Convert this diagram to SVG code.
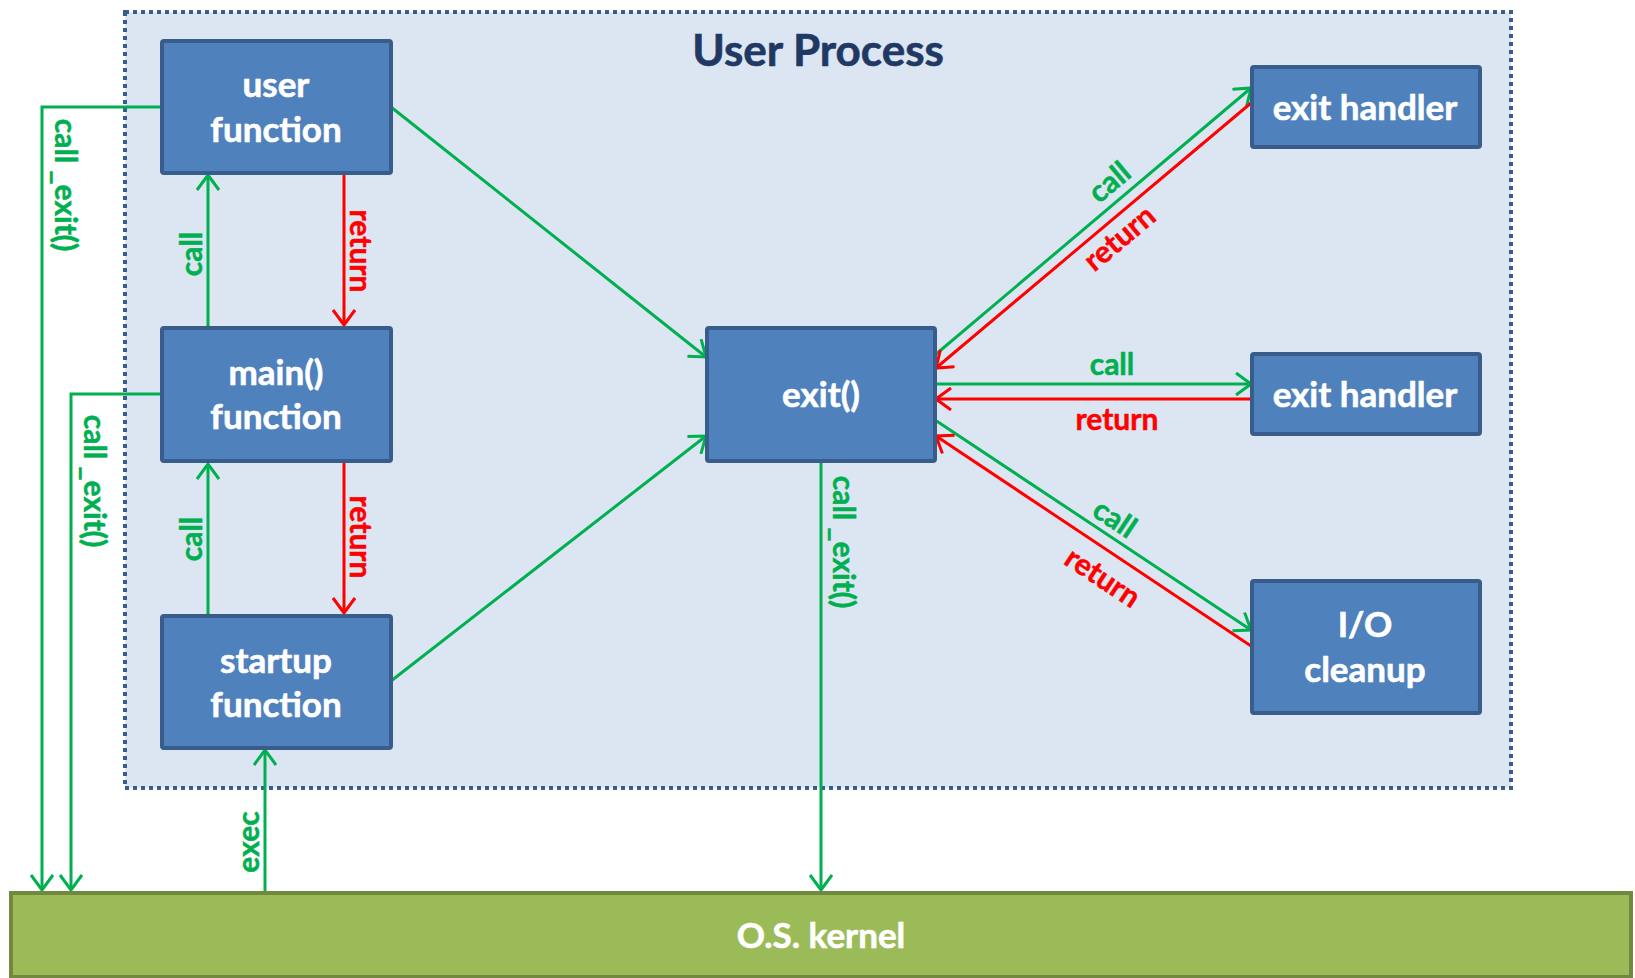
<svg xmlns="http://www.w3.org/2000/svg" width="1635" height="978" viewBox="0 0 1635 978">
  <style>
    .box { fill: #4F81BD; stroke: #385D8A; stroke-width: 4; }
    .kernel { fill: #9BBB59; stroke: #71893F; stroke-width: 4; }
    .btxt { font-family: Lato, "Liberation Sans", sans-serif; font-weight: bold; font-size: 35px; fill: #FFFFFF; stroke: #FFFFFF; stroke-width: 0.6; text-anchor: middle; }
    .title { font-family: Lato, "Liberation Sans", sans-serif; font-weight: bold; font-size: 44px; fill: #1F3864; stroke: #1F3864; stroke-width: 0.6; text-anchor: middle; }
    .g { stroke: #00B050; stroke-width: 3; fill: none; }
    .r { stroke: #FF0000; stroke-width: 3; fill: none; }
    .gl { font-family: Lato, "Liberation Sans", sans-serif; font-weight: bold; font-size: 30px; fill: #00B050; stroke: #00B050; stroke-width: 0.5; text-anchor: middle; }
    .rl { font-family: Lato, "Liberation Sans", sans-serif; font-weight: bold; font-size: 30px; fill: #FF0000; stroke: #FF0000; stroke-width: 0.5; text-anchor: middle; }
  </style>
  <defs>
    <marker id="ag" markerUnits="userSpaceOnUse" viewBox="0 0 18 24" refX="16" refY="12" markerWidth="18" markerHeight="24" orient="auto">
      <path d="M1,1 L16,12 L1,23" fill="none" stroke="#00B050" stroke-width="3"/>
    </marker>
    <marker id="ar" markerUnits="userSpaceOnUse" viewBox="0 0 18 24" refX="16" refY="12" markerWidth="18" markerHeight="24" orient="auto">
      <path d="M1,1 L16,12 L1,23" fill="none" stroke="#FF0000" stroke-width="3"/>
    </marker>
  </defs>

  <!-- process boundary -->
  <g id="user-process">
    <rect x="125" y="12" width="1386" height="776" fill="#DCE6F2" stroke="#385D8A" stroke-width="4" stroke-dasharray="4 4"/>
    <text class="title" x="818" y="66">User Process</text>
  </g>

  <!-- connectors -->
  <g id="connectors">
    <!-- _exit paths to the kernel -->
    <polyline class="g" points="162,107 42,107 42,890" marker-end="url(#ag)"/>
    <polyline class="g" points="162,394 71,394 71,890" marker-end="url(#ag)"/>
    <line class="g" x1="821" y1="461" x2="821" y2="890" marker-end="url(#ag)"/>
    <line class="g" x1="265" y1="892" x2="265" y2="750" marker-end="url(#ag)"/>

    <!-- call / return chain -->
    <line class="g" x1="208" y1="327" x2="208" y2="175" marker-end="url(#ag)"/>
    <line class="r" x1="344" y1="173" x2="344" y2="325" marker-end="url(#ar)"/>
    <line class="g" x1="208" y1="615" x2="208" y2="464" marker-end="url(#ag)"/>
    <line class="r" x1="344" y1="462" x2="344" y2="613" marker-end="url(#ar)"/>

    <!-- into exit() -->
    <line class="g" x1="391" y1="107" x2="706" y2="357" marker-end="url(#ag)"/>
    <line class="g" x1="391" y1="681" x2="706" y2="436" marker-end="url(#ag)"/>

    <!-- exit() to handlers -->
    <line class="g" x1="935" y1="355" x2="1251" y2="88" marker-end="url(#ag)"/>
    <line class="r" x1="1251" y1="103" x2="936" y2="368" marker-end="url(#ar)"/>
    <line class="g" x1="935" y1="384" x2="1251" y2="384" marker-end="url(#ag)"/>
    <line class="r" x1="1251" y1="399" x2="936" y2="399" marker-end="url(#ar)"/>
    <line class="g" x1="935" y1="420" x2="1251" y2="630" marker-end="url(#ag)"/>
    <line class="r" x1="1251" y1="646" x2="936" y2="436" marker-end="url(#ar)"/>

    <!-- labels -->
    <text class="gl" transform="translate(55,185) rotate(90)">call _exit()</text>
    <text class="gl" transform="translate(84,481) rotate(90)">call _exit()</text>
    <text class="gl" transform="translate(833,542) rotate(90)">call _exit()</text>
    <text class="gl" transform="translate(259,842) rotate(-90)">exec</text>
    <text class="gl" transform="translate(202,254) rotate(-90)">call</text>
    <text class="gl" transform="translate(202,539) rotate(-90)">call</text>
    <text class="rl" transform="translate(350,251) rotate(90)">return</text>
    <text class="rl" transform="translate(350,537) rotate(90)">return</text>
    <text class="gl" transform="translate(1116,190) rotate(-40)">call</text>
    <text class="rl" transform="translate(1126,246) rotate(-40)">return</text>
    <text class="gl" x="1112" y="375">call</text>
    <text class="rl" x="1117" y="430">return</text>
    <text class="gl" transform="translate(1109,527) rotate(33.5)">call</text>
    <text class="rl" transform="translate(1097,586) rotate(33.5)">return</text>
  </g>

  <!-- nodes -->
  <g id="user-function">
    <rect class="box" x="162" y="41" width="229" height="132" rx="2"/>
    <text class="btxt" x="276" y="97">user</text>
    <text class="btxt" x="276" y="142">function</text>
  </g>
  <g id="main-function">
    <rect class="box" x="162" y="328" width="229" height="133" rx="2"/>
    <text class="btxt" x="276" y="385">main()</text>
    <text class="btxt" x="276" y="429">function</text>
  </g>
  <g id="startup-function">
    <rect class="box" x="162" y="616" width="229" height="132" rx="2"/>
    <text class="btxt" x="276" y="673">startup</text>
    <text class="btxt" x="276" y="717">function</text>
  </g>
  <g id="exit">
    <rect class="box" x="707" y="328" width="228" height="133" rx="2"/>
    <text class="btxt" x="821" y="407">exit()</text>
  </g>
  <g id="exit-handler-1">
    <rect class="box" x="1252" y="67" width="228" height="80" rx="2"/>
    <text class="btxt" x="1365" y="120">exit handler</text>
  </g>
  <g id="exit-handler-2">
    <rect class="box" x="1252" y="354" width="228" height="80" rx="2"/>
    <text class="btxt" x="1365" y="407">exit handler</text>
  </g>
  <g id="io-cleanup">
    <rect class="box" x="1252" y="581" width="228" height="132" rx="2"/>
    <text class="btxt" x="1365" y="637">I/O</text>
    <text class="btxt" x="1365" y="682">cleanup</text>
  </g>
  <g id="os-kernel">
    <rect class="kernel" x="11" y="893" width="1620" height="84"/>
    <text class="btxt" x="821" y="948">O.S. kernel</text>
  </g>
</svg>
